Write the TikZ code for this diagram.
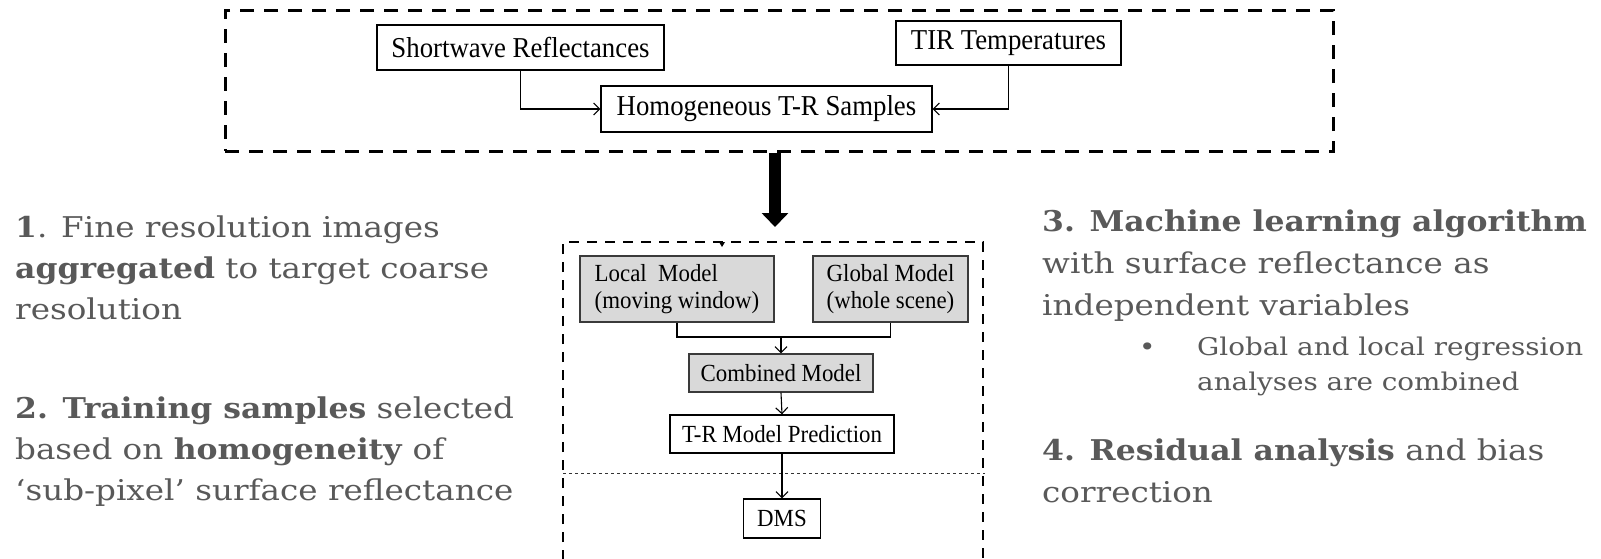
\documentclass[tikz,border=0pt]{standalone}
\usepackage{fontspec}
\setmainfont{Liberation Serif}
\newfontfamily\boxfont[FakeStretch=0.93]{Liberation Serif}
\newfontfamily\sidefont[FakeStretch=1.14,BoldFeatures={FakeStretch=1.1}]{DejaVu Serif}
\usetikzlibrary{arrows.meta}
\definecolor{sidegray}{HTML}{595959}
\definecolor{boxgray}{HTML}{D9D9D9}
\definecolor{boxedge}{HTML}{3A3A3A}
\begin{document}
\begin{tikzpicture}[x=1pt,y=-1pt,
  topbox/.style={draw=black, line width=1.3pt, inner sep=0pt, text=black,
    font=\boxfont\fontsize{28.8}{32}\selectfont},
  lowbox/.style={draw=black, line width=1.3pt, inner sep=0pt, text=black,
    font=\boxfont\fontsize{24.6}{27}\selectfont},
  graybox/.style={lowbox, draw=boxedge, fill=boxgray, align=left},
  conn/.style={line width=1.1pt, -{Straight Barb[length=6pt,width=12pt]}},
  frameA/.style={draw=black, line width=3pt, dash pattern=on 14pt off 10pt},
  frameB/.style={draw=black, line width=2.2pt, dash pattern=on 10pt off 8pt},
  sepline/.style={draw=black!80, line width=0.9pt, dash pattern=on 3pt off 3pt},
  sidetext/.style={anchor=base west, inner sep=0pt, text=sidegray,
    font=\sidefont\fontsize{28.6}{32}\selectfont},
  subtext/.style={anchor=base west, inner sep=0pt, text=sidegray,
    font=\sidefont\fontsize{24.4}{28}\selectfont}
]
\useasboundingbox[fill=white] (0,0) rectangle (1601,558);

% ---- top frame ----
\node[frameA, minimum width=1108pt, minimum height=141pt, inner sep=0pt] (topframe) at (779,80.5) {};
\node[topbox, minimum width=287pt, minimum height=45pt] (sw) at (520.5,47.5) {Shortwave Reflectances};
\node[topbox, minimum width=225pt, minimum height=44pt] (tir) at (1008.5,43) {TIR Temperatures};
\node[topbox, minimum width=331pt, minimum height=46pt] (hom) at (766.5,109) {Homogeneous T-R Samples};
\draw[conn] (sw.south) |- (hom.west);
\draw[conn] (tir.south) |- (hom.east);

% ---- big arrow ----
\coordinate (bigtop) at (775,153);
\coordinate (bigtip) at (775,227);
\draw[line width=12pt, -{Triangle[length=14pt,width=26pt]}] (bigtop) -- (bigtip);

% ---- lower frame ----
\coordinate (lfTL) at (563,242);
\coordinate (lfTR) at (983,242);
\coordinate (lfBL) at (563,560);
\coordinate (lfBR) at (983,560);
\draw[frameB] (lfBL) -- (lfTL) -- (lfTR) -- (lfBR);
\fill (719,242) -- (725,242) -- (722,247) -- cycle;
\coordinate (sepL) at (563,473);
\coordinate (sepR) at (985,473);
\draw[sepline] (sepL) -- (sepR);

\node[graybox, minimum width=194pt, minimum height=66pt] (local) at (677,289) {Local\ \ Model\\(moving window)};
\node[graybox, minimum width=155pt, minimum height=66pt] (global) at (890.5,289) {Global Model\\(whole scene)};
\node[graybox, minimum width=184pt, minimum height=38pt] (comb) at (781,373) {Combined Model};
\node[lowbox, minimum width=224pt, minimum height=38pt] (trm) at (782,434) {T-R Model Prediction};
\node[lowbox, minimum width=77pt, minimum height=39pt] (dms) at (782,518.5) {DMS};

\coordinate (junc) at (781,337);
\draw[line width=1.1pt] (local.south) |- (junc) -| (global.south);
\draw[conn] (junc) -- (comb.north);
\draw[conn] (comb.south) -- (trm.north);
\draw[conn] (trm.south) -- (dms.north);

% ---- left text ----
\node[sidetext] (l1) at (15,237) {\textbf{1}. Fine resolution images};
\node[sidetext] (l2) at (15,278) {\textbf{aggregated} to target coarse};
\node[sidetext] (l3) at (15,319) {resolution};
\node[sidetext] (l4) at (15,418) {\textbf{2. Training samples} selected};
\node[sidetext] (l5) at (15,459) {based on \textbf{homogeneity} of};
\node[sidetext] (l6) at (15,500) {‘sub-pixel’ surface reflectance};

% ---- right text ----
\node[sidetext] (r1) at (1042,231) {\textbf{3. Machine learning algorithm}};
\node[sidetext] (r2) at (1042,273) {with surface reflectance as};
\node[sidetext] (r3) at (1042,315) {independent variables};
\node[subtext] (rb) at (1139,355) {•};
\node[subtext] (r4) at (1197,355) {Global and local regression};
\node[subtext] (r5) at (1197,390) {analyses are combined};
\node[sidetext] (r6) at (1042,460) {\textbf{4. Residual analysis} and bias};
\node[sidetext] (r7) at (1042,502) {correction};
\end{tikzpicture}
\end{document}
